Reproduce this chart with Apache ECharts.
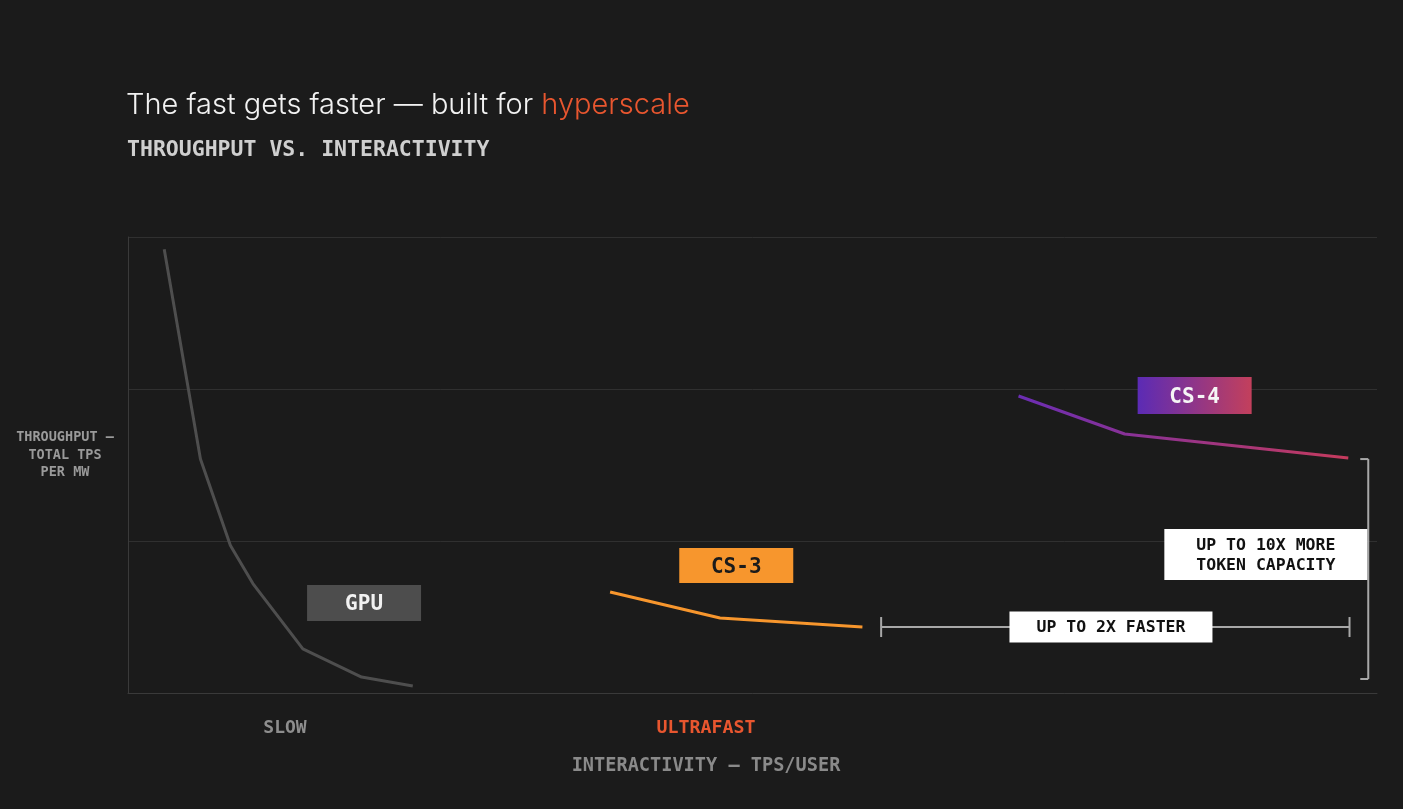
<!DOCTYPE html>
<html>
<head>
<meta charset="utf-8">
<script src="https://cdn.jsdelivr.net/npm/echarts@6/dist/echarts.min.js"></script>
<style>
html,body{margin:0;padding:0;background:#1b1b1b;}
#chart{width:1403px;height:809px;}
</style>
</head>
<body>
<div id="chart"></div>
<script>
// ---- data (relative units) ----
const gpuX = [2.9, 5.8, 8.2, 10.0, 14.0, 18.7, 22.8];
const gpuY = [2.92, 1.54, 0.97, 0.72, 0.29, 0.105, 0.046];
const cs3X = [38.6, 47.4, 58.8];
const cs3Y = [0.664, 0.493, 0.434];
const cs4X = [71.3, 79.8, 97.7];
const cs4Y = [1.954, 1.704, 1.546];
const seriesNames = ['GPU', 'CS-3', 'CS-4'];
const nameAnchors = [[18.9, 0.592], [48.7, 0.839], [85.4, 1.957]];
const speedBracket = [[60.3, 97.8, 0.434]];      // x from, x to, y
const capacityBracket = [[99.3, 0.092, 1.539]];  // x, y from, y to
const speedText = 'UP TO 2X FASTER';
const speedAnchor = [78.7, 0.434];
const capacityText = 'UP TO 10X MORE\nTOKEN CAPACITY';
const capacityAnchor = [91.1, 0.911];
const yTicks = [0, 1, 2, 3];

const zip = (xs, ys) => xs.map((x, i) => [x, ys[i]]);
const mono = '"DejaVu Sans Mono", "Liberation Mono", monospace';

const chart = echarts.init(document.getElementById('chart'), null, {renderer: 'canvas'});

function nameBox(idx, fill, textColor, size) {
  return {
    symbol: 'rect',
    symbolSize: size,
    silent: true,
    data: [{coord: nameAnchors[idx], value: seriesNames[idx]}],
    itemStyle: {color: fill},
    label: {show: true, position: 'inside', formatter: seriesNames[idx], offset: [0, 2],
      color: textColor, fontFamily: mono, fontWeight: 'bold', fontSize: 21}
  };
}

const option = {
  backgroundColor: '#1b1b1b',
  animation: false,
  title: [
    {text: '{a|The fast gets faster — built for }{b|hyperscale}', left: 121, top: 86,
     textStyle: {rich: {
       a: {fontFamily: 'Inter', fontSize: 29, fontWeight: 300, color: '#f2f2f2'},
       b: {fontFamily: 'Inter', fontSize: 29, fontWeight: 300, color: '#e8562f'}}}},
    {text: 'THROUGHPUT VS. INTERACTIVITY', left: 122, top: 134,
     textStyle: {fontFamily: mono, fontSize: 21.5, fontWeight: 'bold', color: '#cfcfcf'}}
  ],
  graphic: [
    {type: 'text', x: 65, y: 429, style: {text: 'THROUGHPUT —\nTOTAL TPS\nPER MW',
      textAlign: 'center', fill: '#9a9a9a', font: 'bold 13.5px ' + mono, lineHeight: 17.5}},
    {type: 'text', x: 285, y: 728, style: {text: 'SLOW', textAlign: 'center', textVerticalAlign: 'middle',
      fill: '#8e8e8e', font: 'bold 18px ' + mono}},
    {type: 'text', x: 706, y: 728, style: {text: 'ULTRAFAST', textAlign: 'center', textVerticalAlign: 'middle',
      fill: '#e8562f', font: 'bold 18.3px ' + mono}},
    {type: 'text', x: 706, y: 766, style: {text: 'INTERACTIVITY — TPS/USER', textAlign: 'center', textVerticalAlign: 'middle',
      fill: '#8a8a8a', font: 'bold 18.6px ' + mono}}
  ],
  grid: {left: 128, right: 26, top: 237, bottom: 116, containLabel: false},
  xAxis: {type: 'value', min: 0, max: 100, axisLabel: {show: false}, axisTick: {show: false},
    splitLine: {show: false}, axisLine: {show: true, lineStyle: {color: '#3a3a3a', width: 1}}},
  yAxis: {type: 'value', min: yTicks[0], max: yTicks[yTicks.length - 1], interval: 1,
    axisLabel: {show: false}, axisTick: {show: false},
    axisLine: {show: true, lineStyle: {color: '#3a3a3a', width: 1}},
    splitLine: {show: true, lineStyle: {color: '#303030', width: 1}}},
  series: [
    {name: 'GPU', type: 'line', data: zip(gpuX, gpuY), showSymbol: false, symbol: 'none',
     lineStyle: {color: '#4e4e4e', width: 3}, z: 3,
     markPoint: nameBox(0, '#4d4d4d', '#f2f2f2', [114, 36])},
    {name: 'CS-3', type: 'line', data: zip(cs3X, cs3Y), showSymbol: false, symbol: 'none',
     lineStyle: {color: '#f7962d', width: 3}, z: 3,
     markPoint: nameBox(1, '#f7962d', '#1b1b1b', [114, 35])},
    {name: 'CS-4', type: 'line', data: zip(cs4X, cs4Y), showSymbol: false, symbol: 'none',
     lineStyle: {width: 3, color: new echarts.graphic.LinearGradient(0, 0, 1, 0, [
       {offset: 0, color: '#6a2db4'}, {offset: 1, color: '#c63b5c'}])}, z: 3,
     markPoint: nameBox(2, new echarts.graphic.LinearGradient(0, 0, 1, 0, [
       {offset: 0, color: '#5b2bb5'}, {offset: 1, color: '#c3405c'}]), '#f5f5f5', [114, 37])},
    {name: 'speed', type: 'custom', data: speedBracket, z: 4, silent: true,
     renderItem: function (params, api) {
       const a = api.coord([api.value(0), api.value(2)]);
       const b = api.coord([api.value(1), api.value(2)]);
       const st = {stroke: '#a8a8a8', lineWidth: 2};
       return {type: 'group', children: [
         {type: 'line', shape: {x1: a[0], y1: a[1], x2: b[0], y2: b[1]}, style: st},
         {type: 'line', shape: {x1: a[0], y1: a[1] - 10, x2: a[0], y2: a[1] + 10}, style: st},
         {type: 'line', shape: {x1: b[0], y1: b[1] - 10, x2: b[0], y2: b[1] + 10}, style: st}
       ]};
     },
     markPoint: {symbol: 'rect', symbolSize: [203, 31], silent: true,
       data: [{coord: speedAnchor}], itemStyle: {color: '#ffffff'},
       label: {show: true, position: 'inside', formatter: speedText, color: '#111111', offset: [0, 1],
         fontFamily: mono, fontWeight: 'bold', fontSize: 16.5}}},
    {name: 'capacity', type: 'custom', data: capacityBracket, z: 4, silent: true,
     renderItem: function (params, api) {
       const a = api.coord([api.value(0), api.value(1)]);
       const b = api.coord([api.value(0), api.value(2)]);
       const st = {stroke: '#a8a8a8', lineWidth: 2};
       return {type: 'group', children: [
         {type: 'line', shape: {x1: a[0], y1: a[1], x2: b[0], y2: b[1]}, style: st},
         {type: 'line', shape: {x1: a[0] - 8, y1: a[1], x2: a[0], y2: a[1]}, style: st},
         {type: 'line', shape: {x1: b[0] - 8, y1: b[1], x2: b[0], y2: b[1]}, style: st}
       ]};
     },
     markPoint: {symbol: 'rect', symbolSize: [203, 51], silent: true,
       data: [{coord: capacityAnchor}], itemStyle: {color: '#ffffff'},
       label: {show: true, position: 'inside', formatter: capacityText, color: '#111111', offset: [0, 1],
         fontFamily: mono, fontWeight: 'bold', fontSize: 16.5, lineHeight: 20, align: 'center'}}}
  ]
};
chart.setOption(option);
</script>
</body>
</html>
